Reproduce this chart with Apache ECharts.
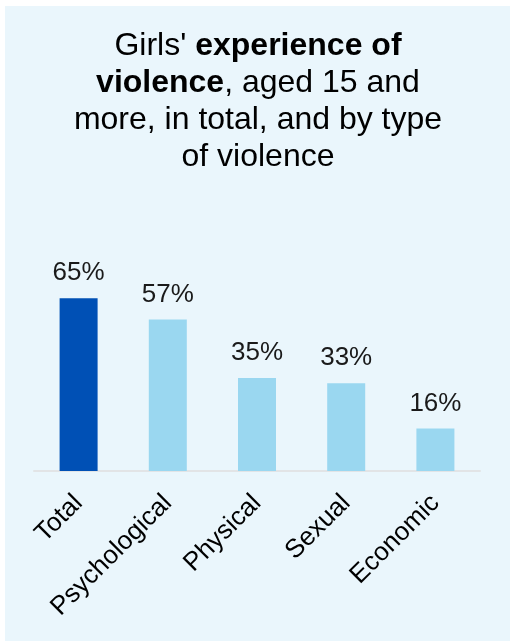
<!DOCTYPE html>
<html>
<head>
<meta charset="utf-8">
<style>
  html, body { margin: 0; padding: 0; background: #ffffff; }
  #bg { position: absolute; left: 5px; top: 6px; width: 505px; height: 635px; background: #EAF6FC; }
  #chart { position: absolute; left: 0; top: 0; width: 510px; height: 641px; }
</style>
<script src="https://cdn.jsdelivr.net/npm/echarts@6/dist/echarts.min.js"></script>
</head>
<body>
<div id="bg"></div>
<div id="chart"></div>
<script>
const categories = ['Total', 'Psychological', 'Physical', 'Sexual', 'Economic'];
const values = [65, 57, 35, 33, 16];
const barColors = ['#0050B5', '#9AD7F0', '#9AD7F0', '#9AD7F0', '#9AD7F0'];

const FONT = 'Arial, "Liberation Sans", sans-serif';
const chart = echarts.init(document.getElementById('chart'), null, { renderer: 'canvas' });

chart.setOption({
  backgroundColor: 'transparent',
  animation: false,
  title: {
    text: "{n|Girls' }{b|experience of}\n{b|violence}{n|, aged 15 and}\n{n|more, in total, and by type}\n{n|of violence}",
    left: 253,
    top: 23,
    textAlign: 'center',
    textStyle: {
      fontFamily: FONT,
      fontSize: 32,
      lineHeight: 37,
      color: '#000000',
      rich: {
        n: { fontFamily: FONT, fontSize: 32, lineHeight: 37, color: '#000000', fontWeight: 'normal' },
        b: { fontFamily: FONT, fontSize: 32, lineHeight: 37, color: '#000000', fontWeight: 'bold' }
      }
    }
  },
  grid: { left: 34, right: 30, top: 285, bottom: 170, containLabel: false },
  xAxis: {
    type: 'category',
    data: categories,
    axisLine: { show: true, lineStyle: { color: '#E2E4E6', width: 2 } },
    axisTick: { show: false },
    axisLabel: {
      rotate: 45,
      interval: 0,
      margin: 28,
      fontFamily: FONT,
      fontSize: 26,
      color: '#000000'
    }
  },
  yAxis: {
    type: 'value',
    min: 0,
    max: 70,
    show: false,
    splitLine: { show: false }
  },
  series: [{
    type: 'bar',
    barWidth: 38,
    data: values.map((v, i) => ({ value: v, itemStyle: { color: barColors[i] } })),
    label: {
      show: true,
      position: 'top',
      distance: 12,
      formatter: p => p.value + '%',
      fontFamily: FONT,
      fontSize: 26,
      color: '#1A1A1A'
    }
  }]
});
</script>
</body>
</html>
